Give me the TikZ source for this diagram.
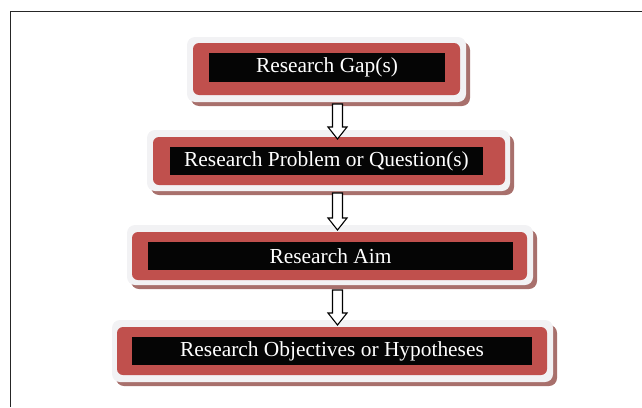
\documentclass[tikz,border=0pt]{standalone}
\usepackage{fontspec}
\setmainfont{Liberation Serif}
\definecolor{boxred}{RGB}{192,80,77}
\definecolor{boxwhite}{RGB}{242,242,244}
\definecolor{boxshadow}{RGB}{168,112,108}
\definecolor{boxblack}{RGB}{5,5,5}
\tikzset{
  outerbox/.style={fill=boxwhite, rounded corners=8pt},
  shadowbox/.style={fill=boxshadow, rounded corners=8pt},
  redbox/.style={fill=boxred, rounded corners=6pt},
  label/.style={fill=boxblack, text=white, inner sep=0pt, font=\fontsize{21.4}{24}\selectfont},
  blockarrow/.style={draw=black, fill=white, line width=1.1pt, line join=miter},
  frameline/.style={draw=black!85, line width=1.3pt}
}
\begin{document}
\begin{tikzpicture}[x=1pt,y=-1pt]
\useasboundingbox (0,0) rectangle (642,407);
\draw[frameline] (10.5,407) -- (10.5,11.5) -- (642,11.5);
% Box 1
\fill[shadowbox] (191,42) rectangle (470,106);
\fill[outerbox] (187,37) rectangle (466,102);
\fill[redbox] (193,43) rectangle (460,95);
\node[label, minimum width=236, minimum height=29] (b1) at (327,67.5) {Research Gap(s)};
% Box 2
\fill[shadowbox] (151,135) rectangle (514,195);
\fill[outerbox] (147,130) rectangle (510,191);
\fill[redbox] (153,137) rectangle (505,185);
\node[label, minimum width=313, minimum height=28] (b2) at (326.5,161) {Research Problem or Question(s)};
% Box 3
\fill[shadowbox] (131,230) rectangle (537,289);
\fill[outerbox] (127,225) rectangle (533,285);
\fill[redbox] (132,232) rectangle (527,280);
\node[label, minimum width=365, minimum height=28] (b3) at (330.5,256) {Research Aim};
% Box 4
\fill[shadowbox] (116,325) rectangle (557,386);
\fill[outerbox] (112,320) rectangle (553,382);
\fill[redbox] (117,327) rectangle (547,375);
\node[label, minimum width=400, minimum height=28] (b4) at (332,351) {Research Objectives or Hypotheses};
% arrows
\foreach \t/\h/\e in {104/127/139, 193/218/230, 290/313/325}{
  \draw[blockarrow] (332.5,\t) -- (342.5,\t) -- (342.5,\h) -- (347,\h) -- (337.5,\e) -- (328,\h) -- (332.5,\h) -- cycle;
}
\end{tikzpicture}
\end{document}
